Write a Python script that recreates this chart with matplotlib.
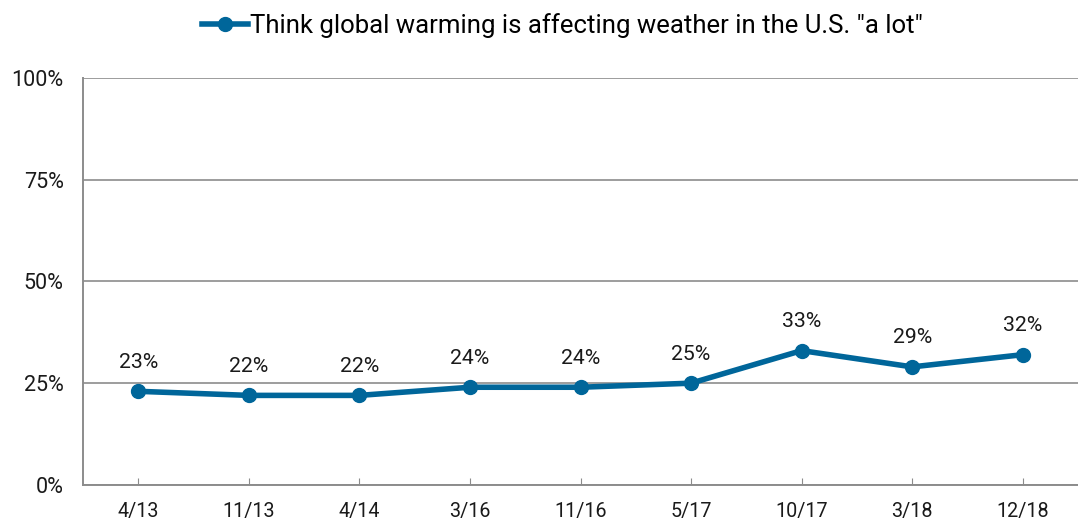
import matplotlib.pyplot as plt
from matplotlib.lines import Line2D

plt.rcParams["font.family"] = ["Roboto", "DejaVu Sans"]

survey_dates = ["4/13", "11/13", "4/14", "3/16", "11/16", "5/17", "10/17", "3/18", "12/18"]
a_lot_pct = [23, 22, 22, 24, 24, 25, 33, 29, 32]
y_ticks = [0, 25, 50, 75, 100]
series_label = 'Think global warming is affecting weather in the U.S. "a lot"'

LINE_COLOR = "#00669A"
GRID_COLOR = "#8C8C8C"

fig = plt.figure(figsize=(10.78, 5.24), dpi=100)
ax = fig.add_axes([0.077, 0.0745, 0.923, 0.777])

x = list(range(len(survey_dates)))

ax.plot(
    x,
    a_lot_pct,
    color=LINE_COLOR,
    linewidth=4,
    marker="o",
    markersize=10,
    zorder=3,
)

for xi, val in zip(x, a_lot_pct):
    ax.annotate(
        f"{val}%",
        (xi, val),
        xytext=(0, 14),
        textcoords="offset points",
        ha="center",
        va="bottom",
        fontsize=15.3,
        color="#1a1a1a",
    )

ax.set_xlim(-0.5, len(survey_dates) - 0.5)
ax.set_ylim(0, 100)
ax.set_xticks(x)
ax.set_xticklabels(survey_dates, fontsize=14.2, color="#1a1a1a")
ax.set_yticks(y_ticks)
ax.set_yticklabels([f"{t}%" for t in y_ticks], fontsize=15.5, color="#1a1a1a")

ax.yaxis.grid(True, color=GRID_COLOR, linewidth=1.2, zorder=0)
ax.set_axisbelow(True)

for side in ["top", "right"]:
    ax.spines[side].set_visible(False)
for side in ["left", "bottom"]:
    ax.spines[side].set_color(GRID_COLOR)
    ax.spines[side].set_linewidth(1.4)

ax.tick_params(axis="x", direction="in", length=5, color=GRID_COLOR, pad=12)
ax.tick_params(axis="y", length=0, pad=14)

handle = Line2D(
    [0], [0],
    color=LINE_COLOR,
    linewidth=4,
    marker="o",
    markersize=10,
)
fig.legend(
    [handle],
    [series_label],
    loc="upper center",
    bbox_to_anchor=(0.5216, 1.02),
    frameon=False,
    fontsize=18.5,
    handlelength=1.8,
    handletextpad=0.05,
)

fig.savefig("out.png", dpi=100)
